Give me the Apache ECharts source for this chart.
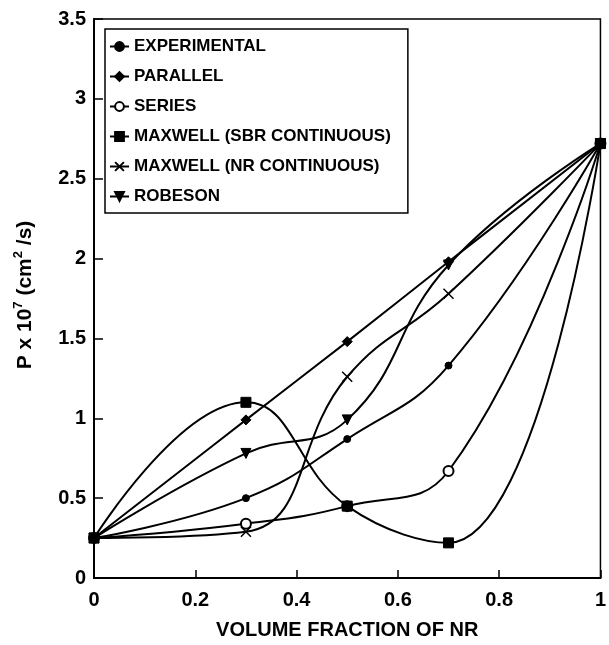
<!DOCTYPE html>
<html>
<head>
<meta charset="utf-8">
<script src="https://cdn.jsdelivr.net/npm/echarts@6/dist/echarts.min.js"></script>
<style>
html,body{margin:0;padding:0;background:#fff;}
#chart{width:609px;height:645px;}
</style>
</head>
<body>
<div id="chart"></div>
<script>
// Volume fraction of NR (x values)
var volumeFraction = [0, 0.3, 0.5, 0.7, 1];
// Permeability P x 10^7 (cm^2/s)
var experimental = [0.25, 0.50, 0.87, 1.33, 2.72];
var parallel     = [0.25, 0.99, 1.48, 1.98, 2.72];
var series       = [0.25, 0.34, 0.45, 0.67, 2.72];
var maxwellSBR   = [0.25, 1.10, 0.45, 0.22, 2.72];
var maxwellNR    = [0.25, 0.29, 1.26, 1.78, 2.72];
var robeson      = [0.25, 0.78, 0.99, 1.96, 2.72];
var seriesNames = ['EXPERIMENTAL', 'PARALLEL', 'SERIES', 'MAXWELL (SBR CONTINUOUS)', 'MAXWELL (NR CONTINUOUS)', 'ROBESON'];
var xTicks = [0, 0.2, 0.4, 0.6, 0.8, 1];
var yTicks = [0, 0.5, 1, 1.5, 2, 2.5, 3, 3.5];

function pairs(ys) {
  return volumeFraction.map(function (x, i) { return [x, ys[i]]; });
}
var FONT = "'Liberation Sans', Arial, Helvetica, sans-serif";
var crossPath = 'path://M0,0L10,10M10,0L0,10';

function mkSeries(name, ys, symbol, size, extra) {
  var s = {
    name: name,
    type: 'line',
    data: pairs(ys),
    smooth: 0.45,
    symbol: symbol,
    symbolSize: size,
    showAllSymbol: true,
    lineStyle: { color: '#000', width: 2 },
    itemStyle: { color: '#000', borderColor: '#000', borderWidth: 1 },
    emphasis: { disabled: true },
    animation: false,
    z: 3
  };
  if (extra) { for (var k in extra) s[k] = extra[k]; }
  return s;
}

var chart = echarts.init(document.getElementById('chart'), null, { renderer: 'canvas' });
chart.setOption({
  backgroundColor: '#fff',
  animation: false,
  grid: {
    left: 94, right: 3, top: 19, bottom: 61,
    show: true, borderColor: '#000', borderWidth: 1.5, backgroundColor: 'transparent'
  },
  xAxis: {
    type: 'value', min: xTicks[0], max: xTicks[xTicks.length - 1], interval: 0.2,
    name: 'VOLUME FRACTION OF NR', nameLocation: 'middle', nameGap: 42,
    nameTextStyle: { fontFamily: FONT, fontSize: 20, fontWeight: 'bold', color: '#000' },
    axisLine: { show: true, lineStyle: { color: '#000', width: 2 } },
    axisTick: { show: true, inside: true, length: 8, lineStyle: { color: '#000', width: 1.5 } },
    axisLabel: { fontFamily: FONT, fontSize: 20, fontWeight: 'bold', color: '#000', margin: 12 },
    splitLine: { show: false }
  },
  yAxis: {
    type: 'value', min: yTicks[0], max: yTicks[yTicks.length - 1], interval: 0.5,
    axisLine: { show: true, lineStyle: { color: '#000', width: 2 } },
    axisTick: { show: true, inside: true, length: 9, lineStyle: { color: '#000', width: 1.5 } },
    axisLabel: { fontFamily: FONT, fontSize: 20, fontWeight: 'bold', color: '#000', margin: 8 },
    splitLine: { show: false }
  },
  legend: {
    orient: 'vertical',
    left: 105, top: 29,
    data: seriesNames,
    padding: [9, 17, 8, 4],
    itemWidth: 19, itemHeight: 11, itemGap: 13,
    borderColor: '#000', borderWidth: 1.5, backgroundColor: '#fff',
    textStyle: { fontFamily: FONT, fontSize: 17, fontWeight: 'bold', color: '#000' },
    selectedMode: false
  },
  graphic: [{
    type: 'text',
    x: 24, y: 295,
    rotation: Math.PI / 2,
    style: {
      text: '{n|P x 10}{s|7}{n| (cm}{s|2}{n| /s)}',
      align: 'center', verticalAlign: 'middle',
      rich: {
        n: { fontFamily: FONT, fontSize: 21, fontWeight: 'bold', color: '#000', lineHeight: 24, verticalAlign: 'bottom' },
        s: { fontFamily: FONT, fontSize: 13, fontWeight: 'bold', color: '#000', lineHeight: 24, verticalAlign: 'top' }
      }
    }
  }],
  series: [
    mkSeries(seriesNames[0], experimental, 'circle', 7),
    mkSeries(seriesNames[1], parallel, 'diamond', 10),
    mkSeries(seriesNames[2], series, 'emptyCircle', 10, { itemStyle: { color: '#000', borderColor: '#000', borderWidth: 1.2 } }),
    mkSeries(seriesNames[3], maxwellSBR, 'rect', 10),
    mkSeries(seriesNames[4], maxwellNR, crossPath, 10, { itemStyle: { color: 'none', borderColor: '#000', borderWidth: 1.5 } }),
    mkSeries(seriesNames[5], robeson, 'triangle', 10, { symbolRotate: 180 })
  ]
});
</script>
</body>
</html>
